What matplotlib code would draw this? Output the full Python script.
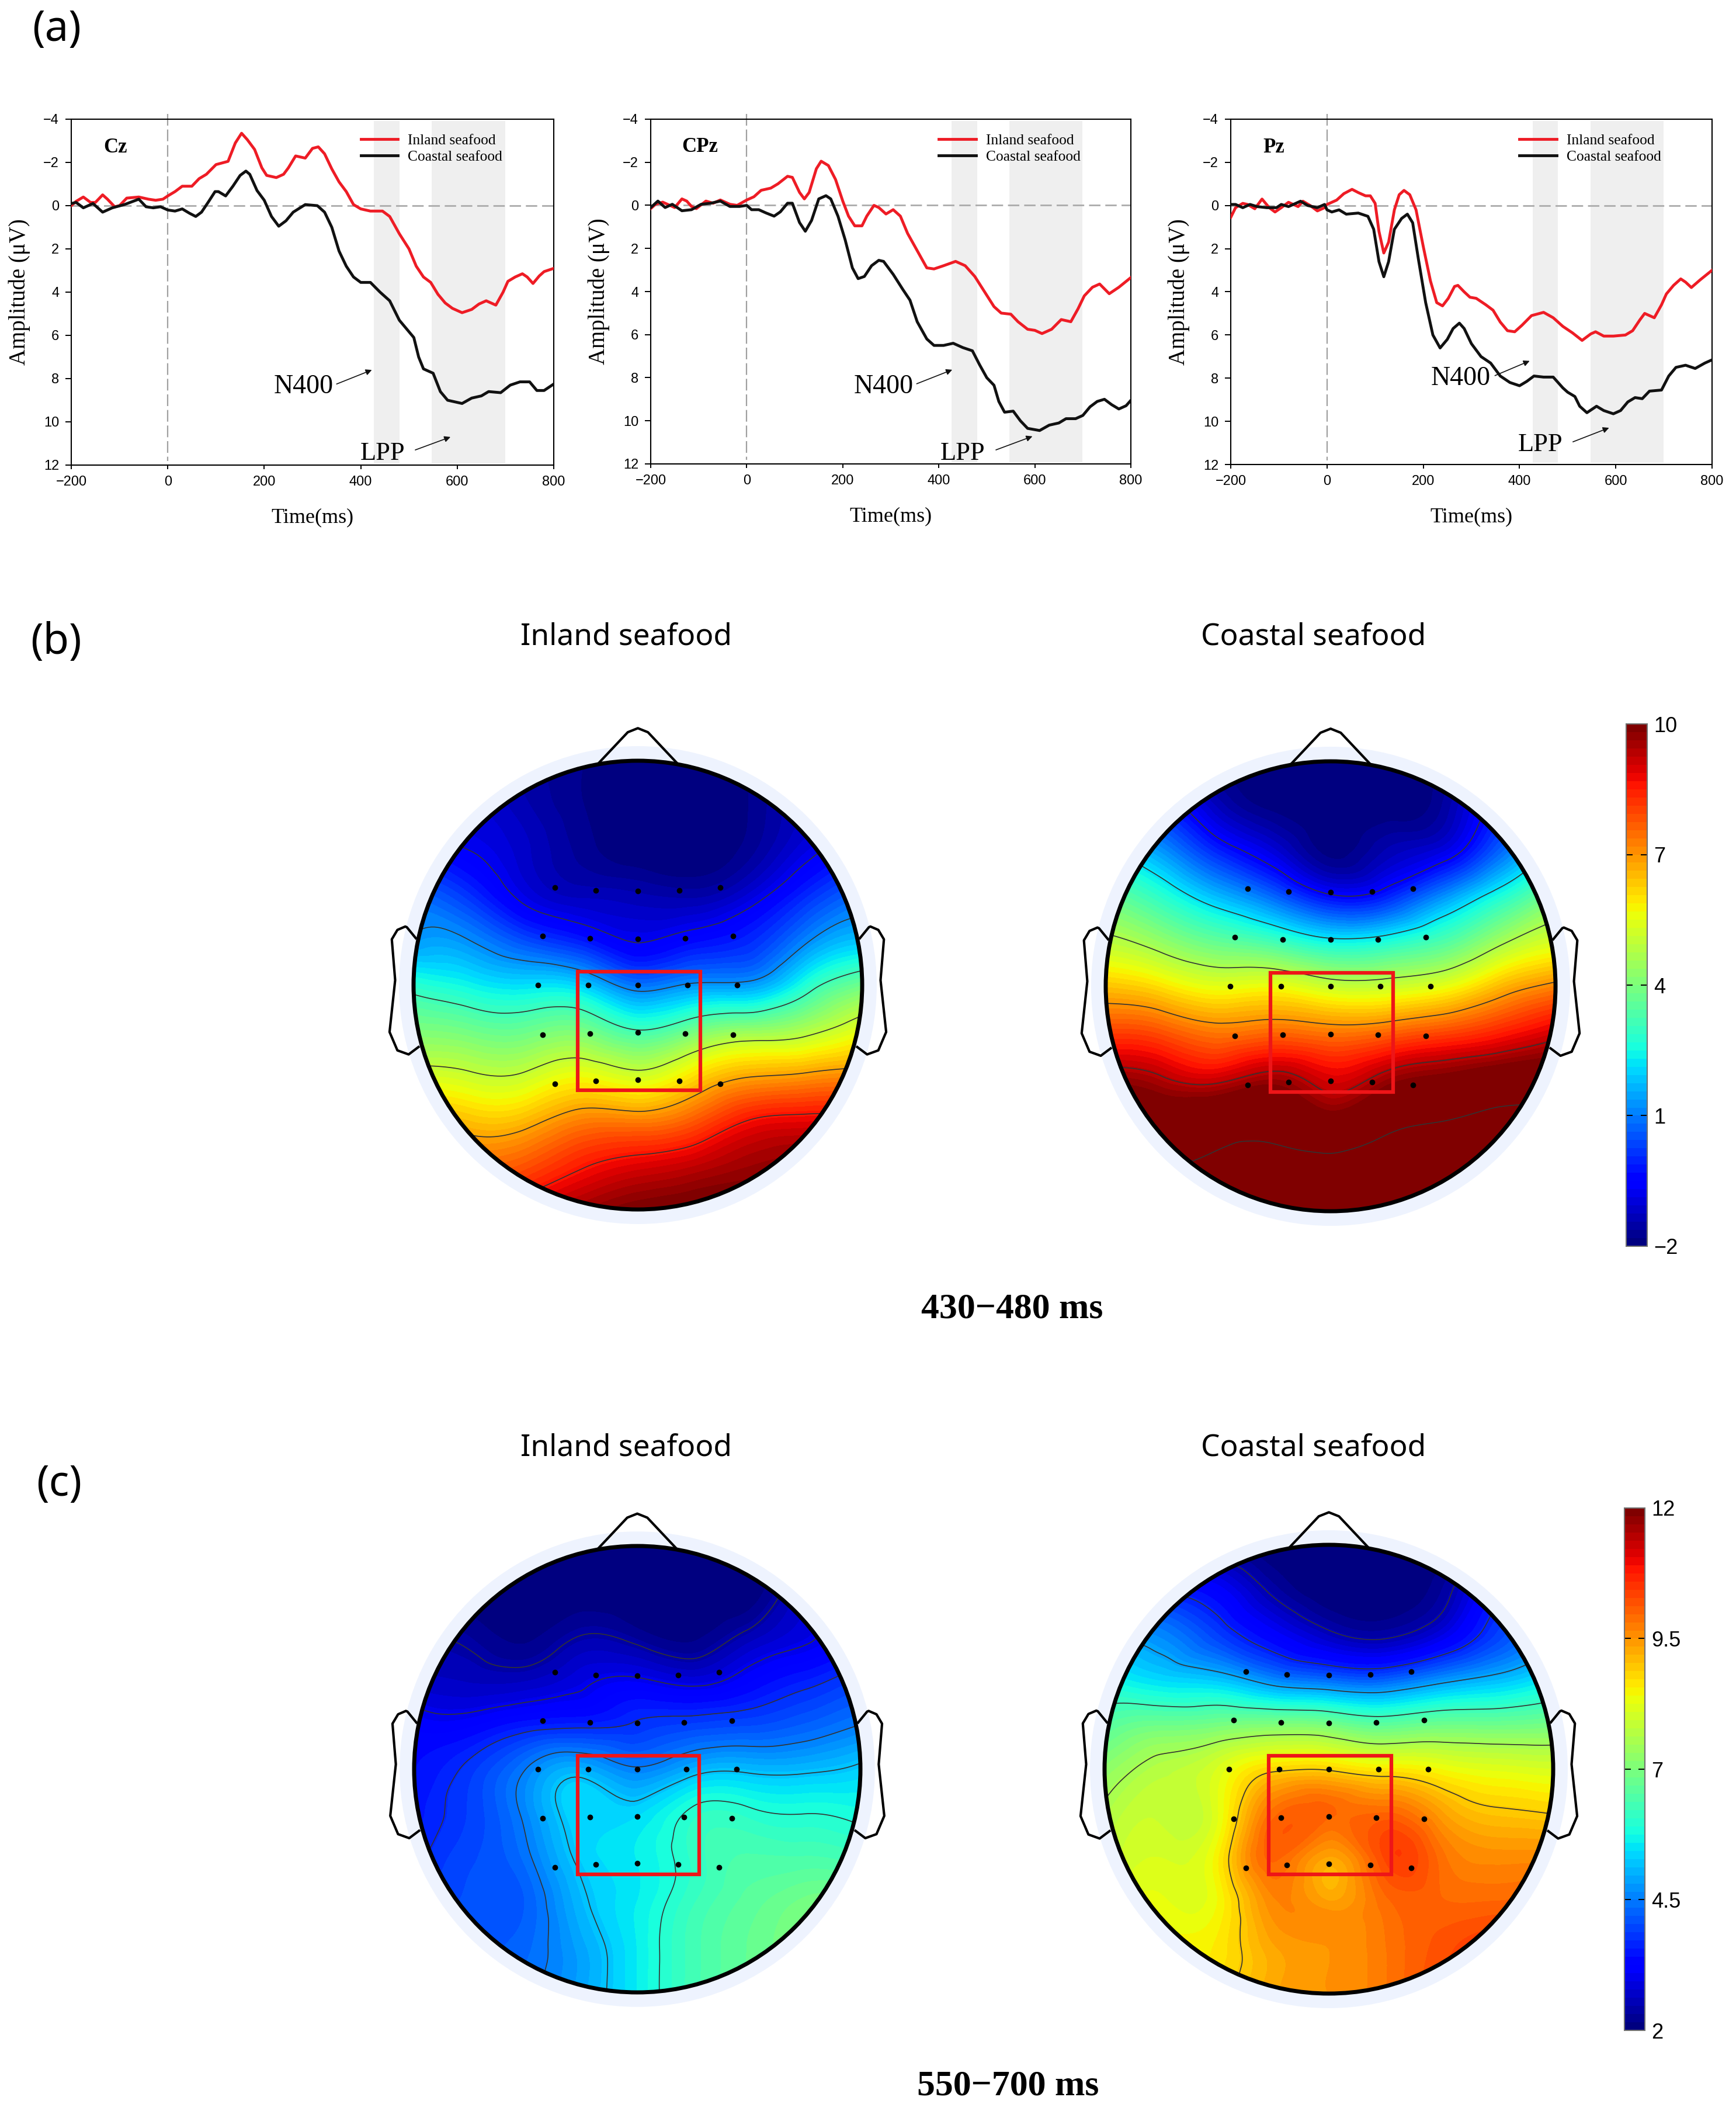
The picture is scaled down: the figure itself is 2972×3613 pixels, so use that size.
import numpy as np
import matplotlib
matplotlib.use("Agg")
import matplotlib.pyplot as plt
import matplotlib.tri as mtri
from matplotlib.cm import ScalarMappable
from matplotlib.colors import Normalize
from matplotlib.patches import Circle, Rectangle

W, H = 2972, 3613

# ERP curves: (time ms, amplitude uV)
cz_inland = [(-200, 0.0), (-190, -0.2), (-175, -0.4), (-160, -0.15), (-150, -0.15), (-135, -0.5), (-125, -0.3), (-110, 0.05), (-100, 0.0), (-85, -0.35), (-60, -0.4), (-40, -0.3), (-25, -0.25), (-10, -0.3), (0, -0.45), (15, -0.65), (30, -0.9), (50, -0.9), (65, -1.25), (80, -1.45), (100, -1.9), (125, -2.05), (140, -2.9), (153, -3.35), (165, -3.05), (180, -2.6), (195, -1.75), (205, -1.4), (225, -1.3), (240, -1.45), (250, -1.75), (265, -2.3), (285, -2.2), (300, -2.65), (312, -2.72), (325, -2.4), (340, -1.7), (355, -1.1), (370, -0.65), (385, -0.05), (400, 0.15), (420, 0.25), (445, 0.25), (460, 0.5), (480, 1.3), (500, 2.0), (515, 2.8), (530, 3.3), (545, 3.55), (560, 4.1), (575, 4.5), (590, 4.75), (610, 4.95), (630, 4.8), (645, 4.55), (660, 4.4), (680, 4.6), (695, 4.0), (705, 3.5), (720, 3.3), (735, 3.15), (745, 3.3), (757, 3.6), (770, 3.25), (780, 3.05), (800, 2.9)]
cz_coastal = [(-200, -0.1), (-190, -0.15), (-175, 0.1), (-155, -0.1), (-135, 0.3), (-115, 0.1), (-90, -0.05), (-60, -0.3), (-45, 0.05), (-30, 0.1), (-15, 0.05), (0, 0.2), (15, 0.25), (30, 0.15), (45, 0.35), (58, 0.5), (70, 0.3), (85, -0.2), (98, -0.65), (105, -0.65), (120, -0.45), (135, -0.9), (150, -1.4), (162, -1.6), (170, -1.45), (185, -0.7), (200, -0.25), (215, 0.5), (230, 0.95), (245, 0.7), (260, 0.3), (285, -0.05), (310, 0.0), (325, 0.3), (340, 1.0), (355, 2.1), (370, 2.8), (385, 3.3), (400, 3.55), (420, 3.55), (440, 4.0), (460, 4.4), (480, 5.3), (495, 5.7), (510, 6.1), (520, 7.0), (530, 7.55), (550, 7.75), (565, 8.6), (580, 9.0), (610, 9.15), (630, 8.9), (650, 8.8), (665, 8.6), (690, 8.65), (710, 8.3), (730, 8.15), (750, 8.15), (765, 8.55), (780, 8.55), (800, 8.25)]
cpz_inland = [(-200, 0.15), (-190, -0.05), (-175, -0.15), (-160, 0.0), (-150, 0.1), (-135, -0.3), (-125, -0.2), (-115, 0.05), (-105, 0.15), (-85, -0.2), (-70, -0.1), (-55, -0.25), (-35, -0.05), (-20, 0.0), (0, -0.25), (15, -0.4), (30, -0.7), (50, -0.8), (65, -1.0), (85, -1.35), (95, -1.3), (110, -0.6), (120, -0.3), (130, -0.6), (145, -1.7), (155, -2.05), (170, -1.85), (185, -1.2), (200, -0.2), (212, 0.5), (225, 0.95), (240, 0.95), (250, 0.5), (265, 0.0), (275, 0.1), (290, 0.4), (305, 0.2), (320, 0.5), (335, 1.3), (355, 2.1), (375, 2.9), (390, 2.95), (410, 2.8), (435, 2.6), (455, 2.8), (475, 3.3), (495, 4.0), (515, 4.7), (530, 5.0), (550, 5.05), (565, 5.4), (585, 5.75), (600, 5.8), (615, 5.95), (635, 5.75), (655, 5.3), (675, 5.4), (690, 4.8), (703, 4.2), (720, 3.8), (735, 3.65), (755, 4.1), (775, 3.8), (800, 3.35)]
cpz_coastal = [(-200, 0.1), (-185, -0.2), (-170, 0.1), (-155, -0.05), (-135, 0.25), (-115, 0.2), (-95, -0.05), (-75, -0.1), (-55, -0.2), (-35, 0.05), (-15, 0.05), (0, 0.0), (10, 0.2), (25, 0.2), (40, 0.35), (57, 0.5), (70, 0.3), (85, -0.1), (95, -0.1), (110, 0.8), (122, 1.2), (135, 0.7), (150, -0.3), (165, -0.45), (175, -0.3), (190, 0.5), (205, 1.6), (220, 2.9), (232, 3.4), (245, 3.3), (260, 2.8), (275, 2.55), (285, 2.6), (305, 3.2), (325, 3.9), (340, 4.4), (355, 5.4), (375, 6.2), (390, 6.5), (410, 6.5), (430, 6.4), (450, 6.6), (470, 6.75), (485, 7.4), (500, 8.0), (515, 8.35), (525, 9.1), (537, 9.6), (555, 9.55), (570, 10.0), (585, 10.35), (610, 10.45), (630, 10.2), (650, 10.1), (665, 9.9), (685, 9.9), (700, 9.75), (715, 9.35), (730, 9.1), (745, 9.0), (760, 9.25), (775, 9.45), (790, 9.3), (800, 9.05)]
pz_inland = [(-200, 0.55), (-190, 0.1), (-175, -0.1), (-165, -0.05), (-150, 0.15), (-135, -0.3), (-120, 0.1), (-108, 0.3), (-95, 0.1), (-80, -0.15), (-60, 0.05), (-50, -0.2), (-35, 0.0), (-20, 0.25), (-5, 0.1), (0, -0.05), (20, -0.25), (35, -0.55), (52, -0.75), (65, -0.6), (80, -0.45), (90, -0.45), (100, -0.1), (108, 1.2), (118, 2.2), (128, 1.7), (140, 0.2), (150, -0.5), (160, -0.7), (172, -0.5), (185, 0.2), (200, 1.9), (215, 3.5), (228, 4.5), (240, 4.65), (252, 4.3), (265, 3.75), (272, 3.7), (285, 4.0), (297, 4.25), (310, 4.3), (330, 4.6), (345, 4.85), (360, 5.4), (375, 5.8), (390, 5.85), (405, 5.55), (425, 5.1), (450, 4.95), (470, 5.2), (490, 5.6), (510, 5.9), (530, 6.25), (548, 5.95), (558, 5.85), (575, 6.05), (595, 6.05), (620, 6.0), (635, 5.8), (650, 5.3), (660, 5.0), (680, 5.2), (695, 4.6), (705, 4.1), (720, 3.7), (735, 3.4), (745, 3.55), (757, 3.8), (775, 3.45), (800, 3.0)]
pz_coastal = [(-200, -0.05), (-190, -0.05), (-175, 0.1), (-160, -0.05), (-145, 0.05), (-125, 0.1), (-105, 0.1), (-95, -0.05), (-80, 0.05), (-55, -0.2), (-40, 0.0), (-20, 0.1), (-5, -0.05), (0, 0.2), (10, 0.3), (25, 0.2), (40, 0.4), (65, 0.35), (85, 0.5), (97, 1.1), (108, 2.6), (118, 3.3), (128, 2.6), (140, 1.1), (155, 0.6), (167, 0.4), (178, 0.8), (190, 2.5), (205, 4.5), (220, 6.0), (235, 6.6), (250, 6.2), (262, 5.7), (275, 5.45), (285, 5.7), (300, 6.4), (320, 7.0), (340, 7.3), (360, 7.9), (380, 8.2), (400, 8.35), (415, 8.15), (430, 7.9), (450, 7.95), (470, 7.95), (490, 8.45), (500, 8.65), (515, 8.85), (525, 9.3), (540, 9.6), (560, 9.3), (575, 9.5), (595, 9.65), (610, 9.5), (625, 9.1), (640, 8.9), (655, 8.95), (670, 8.6), (695, 8.55), (710, 7.9), (725, 7.5), (745, 7.4), (765, 7.55), (785, 7.3), (800, 7.15)]

x_ticks = [-200, 0, 200, 400, 600, 800]
y_ticks = [-4, -2, 0, 2, 4, 6, 8, 10, 12]
windows = [(427, 480), (547, 699)]

# scalp maps: values read at these stations on the unit head
grid_x = [-1, -0.75, -0.5, -0.25, 0, 0.25, 0.5, 0.75, 1]
grid_y = [1, 0.8, 0.6, 0.4, 0.2, 0, -0.2, -0.4, -0.6, -0.8, -1]

inland_430 = [
    [-1, -1.2, -1.5, -1.8, -2, -2, -1.8, -1.2, -1],
    [-0.8, -1, -1.4, -1.8, -2, -2, -1.8, -1.2, -1],
    [-0.6, -0.7, -1.2, -1.7, -2, -2, -1.7, -0.9, -0.5],
    [0.8, 0.1, -0.9, -1.3, -1.4, -1.5, -1.0, 0.0, 0.8],
    [1.3, 1.2, 0.4, -0.17, -0.75, -0.4, 0.0, 1.1, 1.8],
    [2.8, 2.4, 2.15, 1.95, 0.9, 1.3, 1.4, 2.7, 3.8],
    [4.0, 3.8, 3.7, 3.9, 3.1, 3.8, 4.3, 4.7, 5.5],
    [5.3, 5.1, 5.1, 5.6, 5.2, 6.0, 6.7, 6.9, 7.1],
    [6.8, 6.4, 6.5, 7.2, 7.2, 7.7, 8.6, 8.8, 8.9],
    [7.5, 7.5, 7.8, 8.5, 8.9, 9.2, 9.6, 9.8, 9.9],
    [8.3, 8.5, 9.0, 9.6, 10, 10.2, 10.3, 10.3, 10.3],
]
coastal_430 = [
    [-1, -1.3, -1.8, -2, -2, -2, -1.8, -1.3, -1],
    [-0.2, -0.1, -1.3, -1.9, -2, -2, -1.6, -0.2, 0.2],
    [2.0, 1.3, -0.06, -1.0, -1.9, -1.4, -0.9, 0.7, 2.0],
    [3.7, 2.8, 1.7, 0.7, -0.4, -0.1, 1.2, 2.6, 4.0],
    [4.9, 4.3, 3.6, 3.1, 2.4, 2.6, 3.3, 4.5, 5.3],
    [6.4, 6.0, 5.5, 5.6, 5.1, 5.1, 5.5, 6.5, 7.2],
    [8.0, 7.8, 7.3, 7.5, 7.3, 7.5, 7.9, 8.4, 9.0],
    [9.6, 9.3, 9.0, 9.5, 8.9, 9.5, 9.9, 10.3, 10.5],
    [10.8, 10.5, 10.8, 10.9, 10.2, 11, 11.5, 12, 12],
    [11.5, 11.5, 11.8, 12, 12, 12.5, 13, 13, 13],
    [13, 13, 13, 13, 13, 13, 13, 13, 13],
]
inland_550 = [
    [2, 2, 2, 2, 2, 2, 2, 2.1, 2.2],
    [2, 2, 2, 2, 2, 2, 2, 2.7, 3.0],
    [2.4, 2.3, 2.1, 2.4, 2.25, 2.1, 2.5, 2.9, 3.3],
    [2.7, 2.6, 2.6, 2.9, 3.05, 2.85, 3.2, 3.55, 3.9],
    [3.2, 3.2, 3.5, 3.6, 3.75, 3.9, 4.0, 4.2, 4.5],
    [3.4, 3.8, 4.5, 5.0, 4.55, 5.0, 5.1, 5.1, 5.3],
    [3.5, 3.9, 4.6, 5.4, 5.4, 6.0, 6.0, 5.9, 5.8],
    [3.6, 4.0, 4.4, 5.3, 5.6, 6.1, 6.4, 6.4, 6.3],
    [3.7, 4.05, 4.2, 5.1, 5.6, 6.2, 6.6, 6.9, 6.9],
    [3.8, 4.1, 4.3, 4.9, 5.6, 6.3, 6.7, 7.0, 7.0],
    [3.9, 4.2, 4.4, 4.9, 5.6, 6.3, 6.7, 7.0, 7.0],
]
coastal_550 = [
    [2, 2, 2, 2, 2, 2, 2, 2, 2],
    [3.5, 3.5, 3.2, 2.4, 2, 2, 2.3, 3.4, 4.0],
    [4.7, 4.6, 3.9, 3.2, 2.6, 2.4, 2.9, 3.9, 4.7],
    [5.8, 5.4, 5.2, 4.6, 4.3, 4.2, 4.7, 5.1, 5.6],
    [6.5, 6.8, 6.9, 7.0, 6.9, 6.6, 6.8, 6.8, 6.9],
    [7.2, 7.7, 8.1, 8.8, 8.85, 8.6, 8.4, 8.2, 8.1],
    [7.6, 7.9, 8.2, 9.9, 10.0, 10.0, 9.4, 9.0, 8.9],
    [7.8, 8.1, 8.5, 10.0, 9.3, 10.3, 9.9, 9.6, 9.6],
    [7.9, 8.3, 8.4, 9.6, 9.4, 9.9, 10, 10, 10],
    [8, 8.5, 8.6, 9.3, 9.5, 9.8, 10.2, 10.5, 10.5],
    [8.2, 8.6, 8.7, 9.3, 9.5, 9.8, 10.3, 10.6, 10.6],
]
levels_inland_430 = [-0.7, 1.2, 3.1, 5.0, 6.8, 8.6]
levels_coastal_430 = [-0.5, 2.2, 4.7, 7.0, 9.3, 11.5]
levels_inland_550 = [2.4, 3.0, 3.7, 4.5, 5.2, 5.9]
levels_coastal_550 = [2.5, 3.6, 4.9, 6.2, 7.5, 8.9]

elec_x = [-0.369, -0.187, 0, 0.184, 0.367, -0.425, -0.213, 0, 0.21, 0.424, -0.446, -0.221, 0, 0.221, 0.444,
          -0.425, -0.213, 0, 0.21, 0.424, -0.369, -0.187, 0, 0.184, 0.367]
elec_y = [0.434, 0.422, 0.418, 0.422, 0.434, 0.218, 0.209, 0.207, 0.209, 0.218, 0, 0, 0, 0, 0,
          -0.221, -0.215, -0.212, -0.215, -0.221, -0.439, -0.427, -0.422, -0.427, -0.439]

nose_x = [-0.176, -0.045, 0, 0.045, 0.176]
nose_y = [0.988, 1.127, 1.145, 1.127, 0.988]
ear_x = [0.99, 1.03, 1.037, 1.072, 1.097, 1.082, 1.107, 1.072, 1.022, 0.978]
ear_y = [0.209, 0.258, 0.261, 0.246, 0.204, 0.022, -0.209, -0.291, -0.309, -0.276]

jet64 = plt.get_cmap("jet", 64).with_extremes(under=plt.get_cmap("jet")(0.0), over=plt.get_cmap("jet")(1.0))


def px_axes(fig, left, top, right, bottom):
    return fig.add_axes([left / W, 1 - bottom / H, (right - left) / W, (bottom - top) / H])


def px_text(fig, x, y, s, **kw):
    fig.text(x / W, 1 - y / H, s, ha="center", va="center", **kw)


def erp_panel(fig, box, name, name_x, inland, coastal, n400, lpp):
    ax = px_axes(fig, *box)
    for a, b in windows:
        ax.axvspan(a, b, ymin=0.005, ymax=0.995, color="#efefef", lw=0, zorder=0)
    ax.plot([-200, 800], [0, 0], color="#ababab", lw=2, dashes=(7, 3), zorder=1)
    ax.plot([0, 0], [-4.25, 11.8], color="#a0a0a0", lw=1.6, dashes=(9, 3), zorder=1, clip_on=False)
    for series, col, lab in [(inland, "#ee1c25", "Inland seafood"), (coastal, "#111111", "Coastal seafood")]:
        pts = np.array(series)
        ax.plot(pts[:, 0], pts[:, 1], color=col, lw=3.5, label=lab, solid_joinstyle="round", zorder=3)
    ax.set_xlim(-200, 800)
    ax.set_ylim(12, -4)
    ax.set_xticks(x_ticks)
    ax.set_yticks(y_ticks)
    ax.tick_params(axis="both", labelsize=17, length=5, width=1.4, pad=8)
    ax.tick_params(axis="y", length=7, pad=8)
    for lab in ax.get_xticklabels() + ax.get_yticklabels():
        lab.set_fontfamily("Liberation Sans")
    for sp in ax.spines.values():
        sp.set_linewidth(1.5)
    ax.set_xlabel("Time(ms)", family="Liberation Serif", fontsize=26, labelpad=24)
    ax.set_ylabel("Amplitude (μV)", family="Liberation Serif", fontsize=28, labelpad=16)
    ax.text(name_x, -2.7, name, family="Liberation Serif", weight="bold", fontsize=25, ha="center", va="center")
    ax.legend(loc="upper left", bbox_to_anchor=(0.6, 0.958), frameon=False, handlelength=2.5,
              handletextpad=0.65, labelspacing=0.2, borderpad=0, borderaxespad=0,
              prop={"family": "Liberation Serif", "size": 18.4})
    for label, size, (tx, ty, x0, y0, x1, y1) in [("N400", 33, n400), ("LPP", 32, lpp)]:
        ax.text(tx, ty, label, family="Liberation Serif", fontsize=size, ha="center", va="center", zorder=4)
        ax.annotate("", xy=(x1, y1), xytext=(x0, y0),
                    arrowprops=dict(arrowstyle="-|>", color="#111111", lw=1.2, mutation_scale=15, shrinkA=0, shrinkB=0))


def scalp(fig, cx, cy, r, values, levels, vmin, vmax):
    span = 1.3 * r
    ax = px_axes(fig, cx - span, cy - span, cx + span, cy + span)
    ax.set_xlim(-1.3, 1.3)
    ax.set_ylim(-1.3, 1.3)
    ax.axis("off")
    ax.add_patch(Circle((0, 0), 1.065, color="#eef3fe", lw=0, zorder=0))
    gx, gy = np.meshgrid(grid_x, grid_y)
    tri = mtri.Triangulation(gx.ravel(), gy.ravel())
    tri_f, z_f = mtri.UniformTriRefiner(tri).refine_field(np.array(values, float).ravel(), subdiv=4)
    clip = Circle((0, 0), 1, transform=ax.transData)
    fill = ax.tricontourf(tri_f, z_f, levels=np.linspace(vmin, vmax, 65), cmap=jet64, extend="both", zorder=1)
    fill.set_clip_path(clip)
    lines = ax.tricontour(tri_f, z_f, levels=levels, colors="#333333", linewidths=1.2, linestyles="solid", zorder=2)
    lines.set_clip_path(clip)
    ax.plot(nose_x, nose_y, color="black", lw=3, zorder=3)
    ax.plot(ear_x, ear_y, color="black", lw=3, zorder=3)
    ax.plot(-np.array(ear_x), ear_y, color="black", lw=3, zorder=3)
    ax.add_patch(Circle((0, 0), 1, fill=False, ec="black", lw=5, zorder=4))
    ax.plot(elec_x, elec_y, "o", color="black", ms=7, mew=0, zorder=5)
    ax.add_patch(Rectangle((-0.268, -0.47), 0.546, 0.53, fill=False, ec="#ee1518", lw=4.5, zorder=6))


def colorbar(fig, box, vmin, vmax, ticks, labels):
    cax = px_axes(fig, *box)
    cb = fig.colorbar(ScalarMappable(Normalize(vmin, vmax), jet64), cax=cax, ticks=ticks)
    cb.set_ticklabels(labels)
    cb.outline.set_edgecolor("#707070")
    cb.outline.set_linewidth(1.5)
    cax.tick_params(direction="in", left=True, right=True, length=8, width=1.4, labelsize=26, pad=8)
    for lab in cax.get_yticklabels():
        lab.set_fontfamily("Liberation Sans")


fig = plt.figure(figsize=(W / 100, H / 100), dpi=100)

erp_panel(fig, (122, 204, 948, 796), "Cz", -108, cz_inland, cz_coastal,
          (281, 8.38, 350, 8.25, 423, 7.6), (445, 11.45, 513, 11.3, 586, 10.7))
erp_panel(fig, (1114, 204, 1936, 794), "CPz", -97, cpz_inland, cpz_coastal,
          (285, 8.41, 354, 8.28, 428, 7.63), (450, 11.5, 519, 11.35, 595, 10.72))
erp_panel(fig, (2107, 204, 2931, 795), "Pz", -111, pz_inland, pz_coastal,
          (278, 8.0, 349, 7.88, 421, 7.2), (443, 11.08, 511, 10.95, 586, 10.3))

scalp(fig, 1092, 1686, 384, inland_430, levels_inland_430, -2, 10)
scalp(fig, 2278, 1688, 385, coastal_430, levels_coastal_430, -2, 10)
scalp(fig, 1091, 3028, 382, inland_550, levels_inland_550, 2, 12)
scalp(fig, 2275, 3028, 384, coastal_550, levels_coastal_550, 2, 12)

colorbar(fig, (2784, 1239, 2820, 2133), -2, 10, [-2, 1, 4, 7, 10], ["−2", "1", "4", "7", "10"])
colorbar(fig, (2781, 2581, 2816, 3475), 2, 12, [2, 4.5, 7, 9.5, 12], ["2", "4.5", "7", "9.5", "12"])

for x, y, s in [(97, 51, "(a)"), (96, 1100, "(b)"), (101, 2541, "(c)")]:
    px_text(fig, x, y, s, family="Noto Sans", fontsize=52)
for y in (1090, 2478):
    px_text(fig, 1072, y, "Inland seafood", family="Noto Sans", fontsize=37)
    px_text(fig, 2249, y, "Coastal seafood", family="Noto Sans", fontsize=37)
px_text(fig, 1733, 2241, "430−480 ms", family="Liberation Serif", weight="bold", fontsize=44.5)
px_text(fig, 1726, 3570, "550−700 ms", family="Liberation Serif", weight="bold", fontsize=44.5)

fig.savefig("out.png", dpi=100)
